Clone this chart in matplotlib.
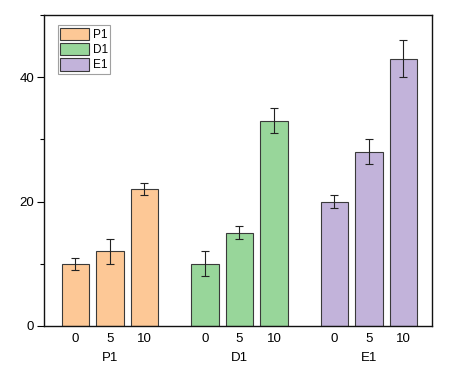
import numpy as np
import matplotlib
matplotlib.use('Agg')
import matplotlib.pyplot as plt
from matplotlib.ticker import MultipleLocator

# groups and doses
groups = ['P1', 'D1', 'E1']
doses = ['0', '5', '10']

# bar heights and error bars per group
p1_vals = [10, 12, 22]
p1_err = [1, 2, 1]
d1_vals = [10, 15, 33]
d1_err = [2, 1, 2]
e1_vals = [20, 28, 43]
e1_err = [1, 2, 3]

colors = ['#FDC896', '#98D69A', '#C2B3DA']

plt.rcParams['font.family'] = ['Arial', 'Liberation Sans', 'DejaVu Sans']

fig = plt.figure(figsize=(4.49, 3.69), dpi=100)
ax = fig.add_axes([44 / 449, 1 - 326 / 369, 388 / 449, 311 / 369])

group_gap = 3.75
width = 0.8
all_vals = [p1_vals, d1_vals, e1_vals]
all_errs = [p1_err, d1_err, e1_err]

tick_pos = []
tick_lab = []
for i, (name, vals, errs) in enumerate(zip(groups, all_vals, all_errs)):
    x = np.arange(len(doses)) + i * group_gap
    ax.bar(x, vals, width=width, color=colors[i], edgecolor='#3a3a3a',
           linewidth=0.8, label=name, zorder=2)
    ax.errorbar(x, vals, yerr=errs, fmt='none', ecolor='#222222',
                elinewidth=0.8, capsize=3, capthick=0.8, zorder=3)
    tick_pos.extend(x)
    tick_lab.extend(doses)
    # group label below the dose labels
    ax.text(x[1], -0.085, name, transform=ax.get_xaxis_transform(),
            ha='center', va='top', fontsize=9.5)

ax.set_xticks(tick_pos)
ax.set_xticklabels(tick_lab, fontsize=9.5)
ax.tick_params(axis='x', length=0, pad=5)

ax.set_xlim(-0.91, 10.33)
ax.set_ylim(0, 50)
ax.yaxis.set_major_locator(MultipleLocator(20))
ax.yaxis.set_minor_locator(MultipleLocator(10))
ax.tick_params(axis='y', which='major', length=5, width=0.8, labelsize=9.5, pad=2)
ax.tick_params(axis='y', which='minor', length=3, width=0.8)

for s in ax.spines.values():
    s.set_linewidth(1.0)
    s.set_color('#111111')

leg = ax.legend(loc='upper left', bbox_to_anchor=(0.035, 0.967), fontsize=8.5,
                frameon=True, fancybox=False, edgecolor='#888888',
                handlelength=2.5, handleheight=1.2, handletextpad=0.3,
                labelspacing=0.2, borderpad=0.2, borderaxespad=0)
leg.get_frame().set_linewidth(0.8)

fig.savefig('out.png', dpi=100)
